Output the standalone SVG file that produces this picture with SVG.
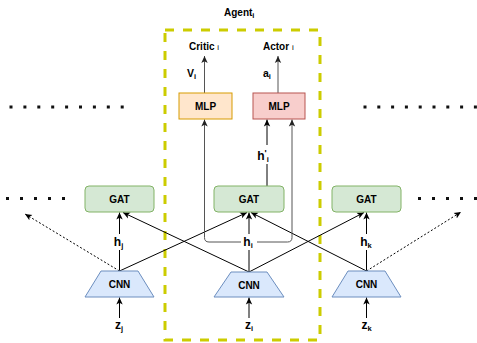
<svg xmlns="http://www.w3.org/2000/svg" width="477" height="343" viewBox="0 0 477 343">
<defs>
<style>
text{font-family:"Liberation Sans",Arial,sans-serif;font-weight:bold;fill:#000}
.node{font-size:10px;text-anchor:middle}
.lbl{font-size:12px;text-anchor:middle}
.sub{font-size:7.5px}
.gat{fill:#d5e8d4;stroke:#82b366;stroke-width:1}
.cnn{fill:#dae8fc;stroke:#6c8ebf;stroke-width:1}
.e{fill:none;stroke:#000;stroke-width:1}
.g{fill:none;stroke:#555;stroke-width:1}
.d{fill:none;stroke:#000;stroke-width:1;stroke-dasharray:2 2}
.bg{fill:#fff}
.dot{fill:#111}
</style>
<marker id="a" markerUnits="userSpaceOnUse" markerWidth="8" markerHeight="8" refX="7" refY="3.5" orient="auto" viewBox="0 0 8 7">
<path d="M0,0.3 L7,3.5 L0,6.7 L1.8,3.5 Z" fill="#000"/>
</marker>
<marker id="ag" markerUnits="userSpaceOnUse" markerWidth="8" markerHeight="8" refX="7" refY="3.5" orient="auto" viewBox="0 0 8 7">
<path d="M0,0.3 L7,3.5 L0,6.7 L1.8,3.5 Z" fill="#222"/>
</marker>
</defs>
<rect width="477" height="343" fill="#fff"/>

<g id="agent-box">
<rect x="165" y="30" width="155" height="310" fill="none" stroke="#cccc00" stroke-width="3" stroke-dasharray="9 9"/>
<text x="224" y="16" style="font-size:10px">Agent<tspan class="sub" dy="2">i</tspan></text>
</g>

<g id="dots">
<g class="dot">
<rect x="9.5" y="105.5" width="3" height="3"/><rect x="23.4" y="105.5" width="3" height="3"/><rect x="37.3" y="105.5" width="3" height="3"/><rect x="51.2" y="105.5" width="3" height="3"/><rect x="65.1" y="105.5" width="3" height="3"/><rect x="79" y="105.5" width="3" height="3"/><rect x="92.9" y="105.5" width="3" height="3"/><rect x="106.8" y="105.5" width="3" height="3"/><rect x="120.7" y="105.5" width="3" height="3"/>
<rect x="363.5" y="105.5" width="3" height="3"/><rect x="377.3" y="105.5" width="3" height="3"/><rect x="391.1" y="105.5" width="3" height="3"/><rect x="404.9" y="105.5" width="3" height="3"/><rect x="418.7" y="105.5" width="3" height="3"/><rect x="432.5" y="105.5" width="3" height="3"/><rect x="446.3" y="105.5" width="3" height="3"/><rect x="460.1" y="105.5" width="3" height="3"/><rect x="473.9" y="105.5" width="3" height="3"/>
<rect x="6" y="197" width="3" height="3"/><rect x="20" y="197" width="3" height="3"/><rect x="34" y="197" width="3" height="3"/><rect x="48" y="197" width="3" height="3"/><rect x="62" y="197" width="3" height="3"/>
<rect x="418" y="197" width="3" height="3"/><rect x="432" y="197" width="3" height="3"/><rect x="446" y="197" width="3" height="3"/><rect x="460" y="197" width="3" height="3"/><rect x="474" y="197" width="3" height="3"/>
</g>
</g>

<g id="connectors">
<path class="e" d="M119.5,271 L247,212.5" marker-end="url(#a)"/>
<path class="e" d="M249,272 L123,212.5" marker-end="url(#a)"/>
<path class="e" d="M249,272 L364,212.5" marker-end="url(#a)"/>
<path class="e" d="M366.5,271 L251,212.5" marker-end="url(#a)"/>
<path class="d" d="M119.5,271 L25,214" marker-end="url(#a)"/>
<path class="d" d="M366.5,271 L461,212" marker-end="url(#a)"/>
<path class="e" d="M119.5,271 V212.5" marker-end="url(#a)"/>
<path class="e" d="M249,272 V212.5" marker-end="url(#a)"/>
<path class="e" d="M366.5,271 V212.5" marker-end="url(#a)"/>
<path class="g" d="M249,242 H209 Q204.5,242 204.5,237.5 V119.5" marker-end="url(#ag)"/>
<path class="g" d="M249,242 H287.5 Q292,242 292,237.5 V119.5" marker-end="url(#ag)"/>
<path class="e" d="M267,186 V119.5" marker-end="url(#a)"/>
<path class="g" d="M204.5,93 V56" marker-end="url(#ag)"/>
<path class="g" d="M278,93 V56" marker-end="url(#ag)"/>
<path class="e" d="M119.5,318 V297.5" marker-end="url(#a)"/>
<path class="e" d="M249,318 V297.5" marker-end="url(#a)"/>
<path class="e" d="M366.5,318 V297.5" marker-end="url(#a)"/>
<rect class="bg" x="112" y="234" width="15" height="16"/>
<text class="lbl" x="118.5" y="246">h<tspan class="sub" dy="2">j</tspan></text>
<rect class="bg" x="241" y="234" width="16" height="16"/>
<text class="lbl" x="248" y="246">h<tspan class="sub" dy="2">i</tspan></text>
<rect class="bg" x="358" y="234" width="17" height="16"/>
<text class="lbl" x="366" y="246">h<tspan class="sub" dy="2">k</tspan></text>
<rect class="bg" x="255" y="145" width="17" height="19"/>
<text class="lbl" x="263" y="160">h<tspan style="font-size:9px" dy="-4">'</tspan><tspan class="sub" dy="6">i</tspan></text>
<text x="187" y="77" style="font-size:10.5px">V<tspan class="sub" dy="2">i</tspan></text>
<text x="263" y="77" style="font-size:10.5px">a<tspan class="sub" dy="2">i</tspan></text>
<text class="lbl" x="119" y="329">z<tspan class="sub" dy="2">j</tspan></text>
<text class="lbl" x="249" y="329">z<tspan class="sub" dy="2">i</tspan></text>
<text class="lbl" x="366.5" y="329">z<tspan class="sub" dy="2">k</tspan></text>
</g>

<g id="critic-label"><text x="189" y="50" style="font-size:10px">Critic <tspan style="font-size:8px;font-weight:normal">i</tspan></text></g>
<g id="actor-label"><text x="263" y="50" style="font-size:10px">Actor <tspan style="font-size:8px;font-weight:normal">i</tspan></text></g>

<g id="mlp-critic"><rect x="179" y="93" width="53" height="26" fill="#ffe6cc" stroke="#d79b00"/><text class="node" x="205.5" y="110">MLP</text></g>
<g id="mlp-actor"><rect x="253" y="93" width="52" height="26" fill="#f8cecc" stroke="#b85450"/><text class="node" x="279" y="110">MLP</text></g>

<g id="gat-j"><rect class="gat" x="85" y="186" width="69" height="26" rx="4"/><text class="node" x="119.5" y="202.5">GAT</text></g>
<g id="gat-i"><rect class="gat" x="214" y="186" width="70" height="26" rx="4"/><text class="node" x="249" y="202.5">GAT</text></g>
<g id="gat-k"><rect class="gat" x="332" y="186" width="69" height="26" rx="4"/><text class="node" x="366.5" y="202.5">GAT</text></g>

<g id="cnn-j"><polygon class="cnn" points="101,271 138,271 154,297 85,297"/><text class="node" x="119.5" y="288">CNN</text></g>
<g id="cnn-i"><polygon class="cnn" points="231,272 267,272 284,297 214,297"/><text class="node" x="249" y="288.5">CNN</text></g>
<g id="cnn-k"><polygon class="cnn" points="348,271 385,271 401,297 332,297"/><text class="node" x="366.5" y="288">CNN</text></g>
</svg>
